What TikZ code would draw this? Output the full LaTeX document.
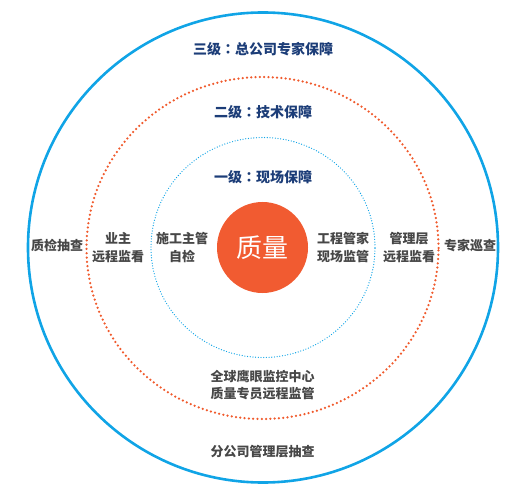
\documentclass[tikz,border=0pt]{standalone}
\usepackage{fontspec}
\newfontfamily\cjk{Noto Sans CJK SC}
\newfontfamily\cjktc{Noto Sans CJK TC}
\usepackage{tikz}
\usetikzlibrary{positioning, shapes.geometric}

\definecolor{ringblue}{HTML}{10A4E6}
\definecolor{ringorange}{HTML}{F05A2C}
\definecolor{corered}{HTML}{F15B31}
\definecolor{levelblue}{HTML}{1C3D78}
\definecolor{notegray}{HTML}{474747}

\newcommand{\lvlcolon}{{\cjktc\bfseries ：}}

\begin{document}
\begin{tikzpicture}[x=1bp, y=-1bp,
      font=\cjk\bfseries\fontsize{13bp}{17.5bp}\selectfont,
      ring/.style={ellipse, inner sep=0pt},
      outerring/.style={ring, draw=ringblue, line width=2.6bp, minimum width=470bp, minimum height=470bp},
      midring/.style={ring, draw=ringorange, line width=2.5bp, line cap=round,
        dash pattern=on 0pt off 4.3bp, minimum width=352bp, minimum height=342bp},
      innerring/.style={ring, draw=ringblue, line width=1.3bp, line cap=round,
        dash pattern=on 0pt off 2.7bp, minimum width=224bp, minimum height=220bp},
      core/.style={circle, fill=corered, minimum size=91bp, inner sep=0pt, text=white,
        font=\cjk\fontsize{26bp}{30bp}\selectfont},
      level/.style={text=levelblue, font=\cjk\bfseries\fontsize{14bp}{17bp}\selectfont},
      note/.style={text=notegray, align=center, inner sep=0pt}]
    \useasboundingbox (0,0) rectangle (520,500);
    % rings
    \node[outerring] (r3) at (263,247.5) {};
    \node[midring] (r2) at (262.5,248) {};
    \node[innerring] (r1) at (263,247.5) {};
    \node[core] (q) at (262.5,247.5) {质量};
    % level titles
    \node[level] (t3) at (263,49) {三级\lvlcolon 总公司专家保障};
    \node[level] (t2) at (263,112) {二级\lvlcolon 技术保障};
    \node[level] (t1) at (263,177) {一级\lvlcolon 现场保障};
    % level one
    \node[note] (self) at (182,247.5) {施工主管\\自检};
    \node[note] (site) at (343,247.5) {工程管家\\现场监管};
    % level two
    \node[note] (owner) at (118,247.5) {业主\\远程监看};
    \node[note] (mgmt) at (409,247.5) {管理层\\远程监看};
    \node[note] (eye) at (262.5,385) {全球鹰眼监控中心\\质量专员远程监管};
    % level three
    \node[note] (spot) at (57,245.5) {质检抽查};
    \node[note] (tour) at (470,245.5) {专家巡查};
    \node[note] (branch) at (262.5,452) {分公司管理层抽查};
  \end{tikzpicture}
\end{document}
